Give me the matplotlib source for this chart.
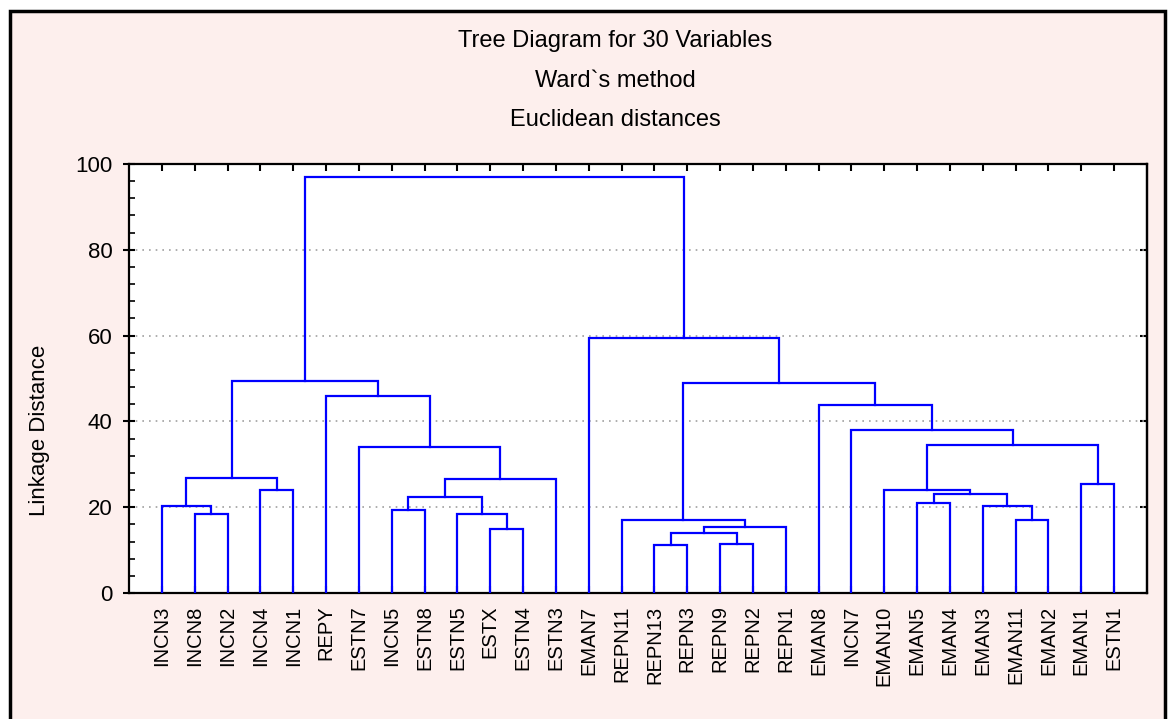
import numpy as np
import matplotlib.pyplot as plt
from matplotlib.patches import Rectangle

plt.rcParams['font.family'] = ['Liberation Sans', 'DejaVu Sans']

# leaf order as drawn, left to right
leaves = ["INCN3", "INCN8", "INCN2", "INCN4", "INCN1", "REPY", "ESTN7", "INCN5",
          "ESTN8", "ESTN5", "ESTX", "ESTN4", "ESTN3", "EMAN7", "REPN11", "REPN13",
          "REPN3", "REPN9", "REPN2", "REPN1", "EMAN8", "INCN7", "EMAN10", "EMAN5",
          "EMAN4", "EMAN3", "EMAN11", "EMAN2", "EMAN1", "ESTN1"]

# merges: node ids 0..29 are leaves, merge k creates node 30+k
merge_left = [1, 0, 3, 31, 10, 9, 7, 36, 37, 6, 5, 33,
              15, 17, 42, 44, 14, 26, 25, 23, 49, 22, 28, 51, 21, 20, 46, 13, 41]
merge_right = [2, 30, 4, 32, 11, 34, 8, 35, 12, 38, 39, 40,
               16, 18, 43, 19, 45, 27, 47, 24, 48, 50, 29, 52, 53, 54, 55, 56, 57]
merge_height = [18.3, 20.3, 24.0, 26.8, 14.9, 18.3, 19.4, 22.4, 26.5, 34.0, 45.9, 49.4,
                11.1, 11.4, 13.9, 15.5, 17.0, 17.0, 20.3, 21.0, 23.0, 24.0, 25.5, 34.5,
                37.9, 43.9, 49.0, 59.4, 96.9]

W, H = 1172, 719
fig = plt.figure(figsize=(W / 100, H / 100), dpi=100)
fig.patch.set_facecolor("white")
bg = "#fdefed"
fig.add_artist(Rectangle((10 / W, -0.05), (1155 / W), 1.05 - 11 / H,
                         transform=fig.transFigure, facecolor=bg,
                         edgecolor="black", linewidth=2.5, zorder=-10))

ax = fig.add_axes([129 / W, (H - 593) / H, (1147 - 129) / W, (593 - 164) / H])
ax.set_facecolor("white")

# node positions
xpos = {i: i + 1.0 for i in range(len(leaves))}
ypos = {i: 0.0 for i in range(len(leaves))}
for k, (a, b, h) in enumerate(zip(merge_left, merge_right, merge_height)):
    ax.plot([xpos[a], xpos[a], xpos[b], xpos[b]], [ypos[a], h, h, ypos[b]],
            color="#0000ff", lw=1.6, solid_joinstyle="miter", zorder=3)
    xpos[30 + k] = (xpos[a] + xpos[b]) / 2
    ypos[30 + k] = h

ax.set_xlim(0, len(leaves) + 1)
ax.set_ylim(0, 100)

ax.set_yticks([0, 20, 40, 60, 80, 100])
ax.set_yticks(np.arange(0, 101, 4), minor=True)
ax.set_xticks(np.arange(1, len(leaves) + 1))
ax.set_xticklabels(leaves, rotation=90, fontsize=14.5, va="top")

ax.tick_params(axis="y", which="major", direction="inout", length=8, width=1.5,
               labelsize=16, pad=8)
ax.tick_params(axis="y", which="minor", direction="in", length=4, width=1.2)
ax.tick_params(axis="x", which="major", direction="in", length=5, width=1.5,
               top=True, pad=9)

sec = ax.secondary_yaxis("right")
sec.set_yticks([0, 20, 40, 60, 80, 100])
sec.tick_params(direction="in", length=5, width=1.5, labelright=False)

ax.yaxis.grid(True, linestyle=(0, (1, 3)), color="#a0a0a0", lw=1.2)
for s in ax.spines.values():
    s.set_linewidth(1.6)
sec.spines["right"].set_linewidth(1.6)

fig.text(40 / W, 1 - 430 / H, "Linkage Distance", rotation=90, fontsize=16,
         ha="center", va="center")

title_lines = ["Tree Diagram for 30 Variables", "Ward`s method", "Euclidean distances"]
for line, yy in zip(title_lines, [41, 81, 120]):
    fig.text(615 / W, 1 - yy / H, line, fontsize=17, ha="center", va="center")

fig.savefig("out.png", dpi=100)
